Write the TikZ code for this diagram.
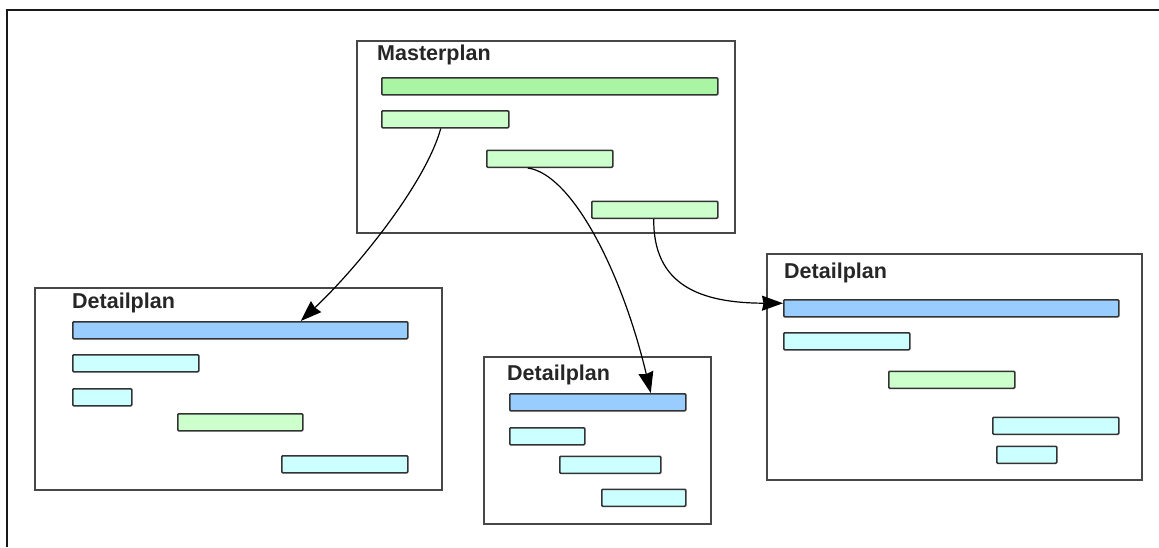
\documentclass[tikz,border=0pt]{standalone}
\usepackage{fontspec}
\setmainfont{Liberation Sans}
\usetikzlibrary{arrows.meta}
\definecolor{gA}{HTML}{AAF5A4}
\definecolor{gB}{HTML}{CCFFCC}
\definecolor{bB}{HTML}{99CCFF}
\definecolor{cB}{HTML}{CCFFFF}
\definecolor{edge}{HTML}{333333}
\begin{document}
\begin{tikzpicture}[x=1pt,y=-1pt,
  barbase/.style={draw=edge,line width=1.5pt,rounded corners=1pt,anchor=north west,inner sep=0pt,minimum height=17pt},
  gbar/.style={barbase,fill=gA},
  lgbar/.style={barbase,fill=gB},
  bbar/.style={barbase,fill=bB},
  cbar/.style={barbase,fill=cB},
  plan/.style={draw=edge!90,line width=1.8pt,anchor=north west,inner sep=0pt,fill=white},
  title/.style={anchor=west,inner sep=0pt,text=black!85,font=\fontsize{21.5}{24}\selectfont\bfseries},
  conn/.style={line width=1.2pt,-{Stealth[length=21pt,width=15pt,inset=1.5pt]}}]
\useasboundingbox (0,0) rectangle (1159,547);
\fill[white] (0,0) rectangle (1159,547);
\coordinate (fa) at (1159,9.5);
\coordinate (fc) at (7,9.5);
\coordinate (fb) at (7,547);
\draw[line width=2pt,black!90] (fa) -- (fc) -- (fb);
% Masterplan
\node[plan,minimum width=378pt,minimum height=192pt] (mp) at (356,40) {};
\node[title] (mpt) at (377,55) {Masterplan};
\node[gbar,minimum width=336pt] (m1) at (381,77) {};
\node[lgbar,minimum width=127pt] (m2) at (381,110) {};
\node[lgbar,minimum width=126pt] (m3) at (486,149.5) {};
\node[lgbar,minimum width=126pt] (m4) at (591,200.5) {};
% Left detail
\node[plan,minimum width=407pt,minimum height=202pt] (dl) at (34,287) {};
\node[title] (dlt) at (72,303) {Detailplan};
\node[bbar,minimum width=335pt] (lb) at (72,321) {};
\node[cbar,minimum width=126pt] (l1) at (72,354) {};
\node[cbar,minimum width=59pt] (l2) at (72,388) {};
\node[lgbar,minimum width=125pt] (l3) at (177,413) {};
\node[cbar,minimum width=126pt] (l4) at (281,455) {};
% Middle detail
\node[plan,minimum width=227pt,minimum height=167pt] (dm) at (483,356) {};
\node[title] (dmt) at (507,375) {Detailplan};
\node[bbar,minimum width=176pt] (mb) at (509,393) {};
\node[cbar,minimum width=75pt] (n1) at (509,427) {};
\node[cbar,minimum width=101pt] (n2) at (559,455.5) {};
\node[cbar,minimum width=84pt] (n3) at (601,488.5) {};
% Right detail
\node[plan,minimum width=375pt,minimum height=226pt] (dr) at (766,253) {};
\node[title] (drt) at (784,273) {Detailplan};
\node[bbar,minimum width=335pt] (rb) at (783,299) {};
\node[cbar,minimum width=126pt] (r1) at (783,332) {};
\node[lgbar,minimum width=126pt] (r2) at (888,370.5) {};
\node[cbar,minimum width=126pt] (r3) at (992,416.5) {};
\node[cbar,minimum width=60pt] (r4) at (996,445.5) {};
% connectors
\draw[conn] ([xshift=-4.5pt]m2.south) .. controls (425,185) and (355,270) .. ([xshift=60.5pt]lb.north);
\draw[conn] ([xshift=-22pt]m3.south) .. controls (572,174) and (622,272) .. ([xshift=53pt]mb.north);
\draw[conn] ([xshift=-1pt]m4.south) .. controls (653,285) and (700,303) .. ([yshift=5pt]rb.west);
\end{tikzpicture}
\end{document}
